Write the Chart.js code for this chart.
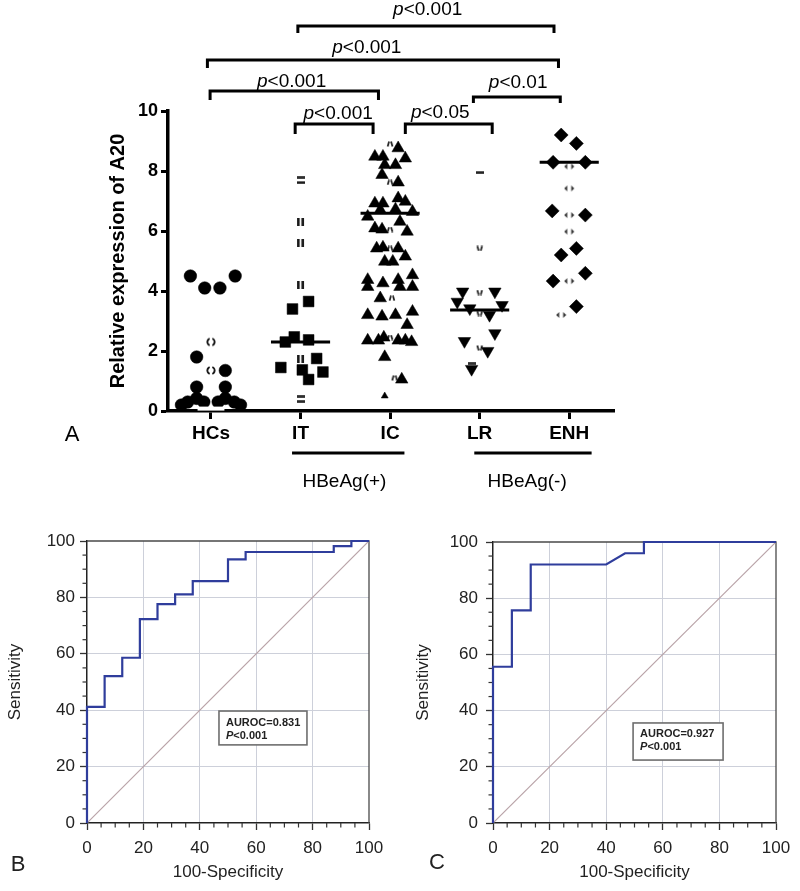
<!DOCTYPE html>
<html>
<head>
<meta charset="utf-8">
<script src="https://cdn.jsdelivr.net/npm/chart.js@4.4.1/dist/chart.umd.min.js"></script>
<style>
html,body{margin:0;padding:0;background:#fff;}
#wrap{position:relative;width:800px;height:891px;overflow:hidden;background:#fff;}
.box{position:absolute;}
</style>
</head>
<body>
<div id="wrap">
  <div class="box" style="left:0;top:0;width:800px;height:500px;"><canvas id="cA" width="800" height="500"></canvas></div>
  <div class="box" style="left:0;top:500px;width:400px;height:391px;"><canvas id="cB" width="400" height="391"></canvas></div>
  <div class="box" style="left:400px;top:500px;width:400px;height:391px;"><canvas id="cC" width="400" height="391"></canvas></div>
</div>
<script>
// ---------------- DATA (panel A) ----------------
const categories = ['HCs', 'IT', 'IC', 'LR', 'ENH'];
const yTicksA = [0, 2, 4, 6, 8, 10];

const hcsValues = [4.5, 4.5, 4.1, 4.1, 1.8, 1.35, 0.8, 0.8, 0.42, 0.42, 0.3, 0.3, 0.3, 0.3, 0.2, 0.2];
const hcsJitter = [-0.23, 0.27, -0.07, 0.10, -0.16, 0.16, -0.16, 0.16, -0.16, 0.16, -0.26, -0.08, 0.08, 0.26, -0.33, 0.33];
const hcsGhost = [2.3, 1.35];
const hcsGhostJitter = [0, 0];

const itValues = [3.65, 3.4, 2.47, 2.37, 2.3, 1.75, 1.45, 1.37, 1.3, 1.05];
const itJitter = [0.09, -0.09, -0.07, 0.09, -0.17, 0.18, -0.22, 0.02, 0.25, 0.09];
const itGhostBars = [6.3, 5.6, 4.2, 1.75];
const itGhostBarsJitter = [0, 0, 0, 0];
const itGhostDash = [7.8, 7.62, 0.5, 0.33];
const itGhostDashJitter = [0, 0, 0, 0];

const icValues = [8.76, 8.48, 8.48, 8.42, 8.2, 8.2, 7.87, 7.62, 7.09, 6.92, 6.92, 6.98, 6.72, 6.7, 6.48, 6.64,
  6.31, 6.09, 6.05, 5.98, 5.42, 5.45, 5.42, 5.15, 4.98, 4.98, 4.53, 4.37, 4.26, 4.37, 4.14, 4.14, 4.14,
  3.76, 3.2, 3.15, 3.2, 3.31, 2.87, 2.35, 2.35, 2.45, 2.35, 2.35, 2.3, 1.8, 1.05];
const icJitter = [0.09, -0.17, -0.08, 0.17, -0.06, 0.06, -0.09, 0.09, 0.09, -0.17, -0.08, 0.17, 0.06, -0.11, -0.25, 0.25,
  0.11, -0.17, -0.09, 0.19, -0.15, -0.08, 0.09, 0.17, -0.06, 0.03, 0.25, -0.25, -0.08, 0.09, -0.25, 0.11, 0.25,
  -0.11, -0.25, -0.09, 0.06, 0.25, 0.19, -0.25, -0.13, -0.07, 0.09, 0.17, 0.24, -0.06, 0.13];
const icGhost = [8.9, 7.62, 6.05, 5.42, 3.76, 2.45, 1.1];
const icGhostJitter = [0, 0, 0, 0, 0.02, 0, 0.05];
const icFaint = [0.5];
const icFaintJitter = [-0.06];

const lrValues = [3.98, 3.98, 3.64, 3.53, 3.42, 3.2, 2.59, 2.33, 2.0, 1.4];
const lrJitter = [-0.19, 0.17, -0.25, 0.25, -0.11, 0.11, 0.17, -0.17, 0.09, -0.09];
const lrGhost = [5.42, 3.95, 3.25, 2.1];
const lrGhostJitter = [0, 0, 0, 0];
const lrGhostDash = [7.96, 1.6];
const lrGhostDashJitter = [0, -0.09];

const enhValues = [9.2, 8.92, 8.29, 8.29, 6.67, 6.53, 5.42, 5.2, 4.59, 4.33, 3.48];
const enhJitter = [-0.09, 0.08, -0.18, 0.18, -0.19, 0.18, 0.08, -0.09, 0.18, -0.18, 0.08];
const enhGhost = [8.15, 7.42, 6.53, 5.98, 4.33, 3.2];
const enhGhostJitter = [0, 0, 0, 0, 0, -0.09];

const medians = [0.08, 2.3, 6.59, 3.37, 8.29];

// significance brackets (category units / value units)
const bracketFrom  = [1.97, 0.96, 0.99, 3.93, 1.94, 3.17];
const bracketTo    = [4.83, 4.88, 2.87, 4.90, 2.81, 4.14];
const bracketLevel = [12.83, 11.7, 10.67, 10.47, 9.57, 9.57];
const bracketText  = ['<0.001', '<0.001', '<0.001', '<0.01', '<0.001', '<0.05'];
const bracketTextX = [3.42, 2.74, 1.9, 4.43, 2.42, 3.56];
const bracketTextY = [13.2, 11.93, 10.8, 10.77, 9.72, 9.77];

const groupLabels = ['HBeAg(+)', 'HBeAg(-)'];
const groupFrom = [1.905, 3.94];
const groupTo = [3.16, 5.25];
const groupLabelX = [2.49, 4.53];

// ---------------- DATA (panels B, C) ----------------
const rocB_fpr = [0, 0, 6.25, 6.25, 12.5, 12.5, 18.75, 18.75, 25, 25, 31.25, 31.25, 37.5, 37.5, 50, 50, 56.25, 56.25, 87.5, 87.5, 93.75, 93.75, 100];
const rocB_tpr = [0, 41.2, 41.2, 52.1, 52.1, 58.6, 58.6, 72.3, 72.3, 77.6, 77.6, 81.1, 81.1, 85.8, 85.8, 93.5, 93.5, 96.1, 96.1, 98.2, 98.2, 100, 100];
const rocC_fpr = [0, 0, 6.67, 6.67, 13.33, 13.33, 40, 46.67, 53.33, 53.33, 100];
const rocC_tpr = [0, 55.6, 55.6, 75.7, 75.7, 92, 92, 96, 96, 100, 100];
const refLineX = [0, 100];
const refLineY = [0, 100];
const aurocText = ['AUROC=0.831', 'AUROC=0.927'];
const pValueText = ['<0.001', '<0.001'];
const aurocBoxB = [46.8, 78, 39.7, 27.7];   // x1, x2, yTop, yBottom (data units)
const aurocBoxC = [49.5, 81.3, 35.6, 22.4];
const rocTicks = [0, 20, 40, 60, 80, 100];

// ---------------- RENDERING ----------------
const FF = '"Liberation Sans", Arial, Helvetica, sans-serif';
Chart.defaults.font.family = FF;
Chart.defaults.color = '#000';
Chart.defaults.animation = false;

function mkCanvas(w, h, draw) {
  const c = document.createElement('canvas');
  c.width = w; c.height = h;
  const g = c.getContext('2d');
  g.fillStyle = '#1a1a1a'; g.strokeStyle = '#1a1a1a';
  draw(g);
  return c;
}
const imgCircleGhost = mkCanvas(10, 11, g => {
  g.lineWidth = 2;
  g.beginPath(); g.arc(5, 5.5, 3.6, Math.PI * 0.62, Math.PI * 1.38); g.stroke();
  g.beginPath(); g.arc(5, 5.5, 3.6, -Math.PI * 0.38, Math.PI * 0.38); g.stroke();
});
const imgBars = mkCanvas(9, 8, g => { g.fillRect(1, 0, 2.6, 8); g.fillRect(5.4, 0, 2.6, 8); });
const imgDash = mkCanvas(8, 3, g => { g.fillRect(0, 0.4, 8, 2.4); });
const imgTicksUp = mkCanvas(8, 6, g => {
  g.lineWidth = 1.7; g.beginPath();
  g.moveTo(3, 0.5); g.lineTo(1.6, 5.5); g.moveTo(5, 0.5); g.lineTo(6.4, 5.5); g.stroke();
});
const imgTicksDown = mkCanvas(8, 6, g => {
  g.lineWidth = 1.7; g.beginPath();
  g.moveTo(1.6, 0.5); g.lineTo(3, 5.5); g.moveTo(6.4, 0.5); g.lineTo(5, 5.5); g.stroke();
});
const imgDiaGhost = mkCanvas(11, 8, g => {
  g.fillStyle = '#333';
  g.beginPath(); g.moveTo(0.5, 4); g.lineTo(3.5, 1); g.lineTo(3.5, 7); g.closePath(); g.fill();
  g.beginPath(); g.moveTo(10.5, 4); g.lineTo(7.5, 1); g.lineTo(7.5, 7); g.closePath(); g.fill();
});

function pts(gi, vals, jit) { return vals.map((v, i) => ({ x: gi + jit[i], y: v })); }

const datasetsA = [];
const medianHalf = [0.15, 0.33, 0.33, 0.33, 0.33];
medians.forEach((m, i) => {
  datasetsA.push({
    type: 'line', data: [{ x: i + 1 - medianHalf[i], y: m }, { x: i + 1 + medianHalf[i], y: m }],
    borderColor: i === 0 ? '#fff' : '#000', borderWidth: i === 0 ? 4 : 3, pointRadius: 0,
    showLine: true, clip: false, borderCapStyle: 'butt'
  });
});
function solid(data, style, r, rot) {
  return { data, pointStyle: style, pointRadius: r, pointRotation: rot || 0, backgroundColor: '#000',
    borderColor: '#000', borderWidth: 0.5, clip: false, showLine: false };
}
function ghost(data, img) {
  return { data, pointStyle: img, pointRadius: 4, clip: false, showLine: false };
}
datasetsA.push(solid(pts(1, hcsValues, hcsJitter), 'circle', 6.3));
datasetsA.push(ghost(pts(1, hcsGhost, hcsGhostJitter), imgCircleGhost));
datasetsA.push(solid(pts(2, itValues, itJitter), 'rect', 7.6));
datasetsA.push(ghost(pts(2, itGhostBars, itGhostBarsJitter), imgBars));
datasetsA.push(ghost(pts(2, itGhostDash, itGhostDashJitter), imgDash));
datasetsA.push(solid(pts(3, icValues, icJitter), 'triangle', 7.2));
datasetsA.push(ghost(pts(3, icGhost, icGhostJitter), imgTicksUp));
datasetsA.push(solid(pts(3, icFaint, icFaintJitter), 'triangle', 4));
datasetsA.push(solid(pts(4, lrValues, lrJitter), 'triangle', 7.2, 180));
datasetsA.push(ghost(pts(4, lrGhost, lrGhostJitter), imgTicksDown));
datasetsA.push(ghost(pts(4, lrGhostDash, lrGhostDashJitter), imgDash));
datasetsA.push(solid(pts(5, enhValues, enhJitter), 'rectRot', 7));
datasetsA.push(ghost(pts(5, enhGhost, enhGhostJitter), imgDiaGhost));

function drawP(ctx, text, cx, baseY, size) {
  ctx.font = `italic ${size}px ${FF}`;
  const w1 = ctx.measureText('p').width;
  ctx.font = `${size}px ${FF}`;
  const w2 = ctx.measureText(text).width;
  const sx = cx - (w1 + w2) / 2;
  ctx.textAlign = 'left'; ctx.textBaseline = 'alphabetic';
  ctx.font = `italic ${size}px ${FF}`; ctx.fillText('p', sx, baseY);
  ctx.font = `${size}px ${FF}`; ctx.fillText(text, sx + w1, baseY);
}

const annotA = {
  id: 'annotA',
  afterDraw(chart) {
    const { ctx, scales: { x, y } } = chart;
    const tickLen = [7, 8, 9, 6, 10, 10];
    ctx.save();
    ctx.fillStyle = '#000'; ctx.strokeStyle = '#000';
    ctx.lineWidth = 3; ctx.lineJoin = 'miter'; ctx.lineCap = 'butt';
    for (let i = 0; i < bracketFrom.length; i++) {
      const x1 = x.getPixelForValue(bracketFrom[i]);
      const x2 = x.getPixelForValue(bracketTo[i]);
      const yy = y.getPixelForValue(bracketLevel[i]);
      ctx.beginPath();
      ctx.moveTo(x1, yy + tickLen[i]); ctx.lineTo(x1, yy); ctx.lineTo(x2, yy); ctx.lineTo(x2, yy + tickLen[i]);
      ctx.stroke();
      drawP(ctx, bracketText[i], x.getPixelForValue(bracketTextX[i]), y.getPixelForValue(bracketTextY[i]), 19);
    }
    const base = y.getPixelForValue(0);
    for (let i = 0; i < groupLabels.length; i++) {
      const x1 = x.getPixelForValue(groupFrom[i]);
      const x2 = x.getPixelForValue(groupTo[i]);
      ctx.lineWidth = 3;
      ctx.beginPath(); ctx.moveTo(x1, base + 42); ctx.lineTo(x2, base + 42); ctx.stroke();
      ctx.font = `19px ${FF}`; ctx.textAlign = 'center'; ctx.textBaseline = 'middle';
      ctx.fillText(groupLabels[i], x.getPixelForValue(groupLabelX[i]), base + 71);
    }
    ctx.font = `22px ${FF}`; ctx.textAlign = 'center'; ctx.textBaseline = 'middle';
    ctx.fillText('A', 72, base + 24);
    ctx.restore();
  }
};

new Chart(document.getElementById('cA'), {
  type: 'scatter',
  data: { datasets: datasetsA },
  options: {
    responsive: false, animation: false,
    layout: { padding: { left: 100, top: 111, right: 186, bottom: 49 } },
    plugins: { legend: { display: false }, tooltip: { enabled: false } },
    scales: {
      x: {
        type: 'linear', min: 0.52, max: 5.5,
        afterBuildTicks: s => { s.ticks = categories.map((c, i) => ({ value: i + 1 })); },
        afterFit: s => { s.height = 40; },
        ticks: { autoSkip: false, maxRotation: 0, padding: 3, color: '#000',
          font: { size: 19, weight: 'bold' }, callback: v => categories[Math.round(v) - 1] },
        grid: { drawOnChartArea: false, drawTicks: true, tickLength: 8, tickWidth: 3, tickColor: '#000' },
        border: { display: true, color: '#000', width: 3.5 }
      },
      y: {
        type: 'linear', min: 0, max: 10,
        afterBuildTicks: s => { s.ticks = yTicksA.map(v => ({ value: v })); },
        afterFit: s => { s.width = 68; },
        ticks: { padding: 3, color: '#000', font: { size: 18, weight: 'bold' } },
        grid: { drawOnChartArea: false, drawTicks: true, tickLength: 7, tickWidth: 3, tickColor: '#000' },
        border: { display: true, color: '#000', width: 3.5 },
        title: { display: true, text: 'Relative expression of A20', color: '#000',
          font: { size: 20, weight: 'bold' }, padding: { top: 6, bottom: 0 } }
      }
    }
  },
  plugins: [annotA]
});

// ---------------- ROC panels ----------------
function rocChart(id, fpr, tpr, box, idx, letter, lay) {
  const annot = {
    id: 'annot' + letter,
    beforeDatasetsDraw(chart) {
      const { ctx, chartArea: a, scales: { x, y } } = chart;
      ctx.save();
      ctx.strokeStyle = '#4a4a4a'; ctx.lineWidth = 1.3;
      ctx.beginPath(); ctx.moveTo(a.left, a.top); ctx.lineTo(a.right, a.top); ctx.lineTo(a.right, a.bottom); ctx.stroke();
      // minor ticks
      ctx.strokeStyle = '#333'; ctx.lineWidth = 1.2;
      for (let v = 5; v < 100; v += 5) {
        if (v % 20 === 0) continue;
        const px = x.getPixelForValue(v), py = y.getPixelForValue(v);
        ctx.beginPath(); ctx.moveTo(px, a.bottom); ctx.lineTo(px, a.bottom + 4.5); ctx.stroke();
        ctx.beginPath(); ctx.moveTo(a.left, py); ctx.lineTo(a.left - 4.5, py); ctx.stroke();
      }
      ctx.restore();
    },
    afterDraw(chart) {
      const { ctx, chartArea: a, scales: { x, y } } = chart;
      ctx.save();
      const bx1 = x.getPixelForValue(box[0]), bx2 = x.getPixelForValue(box[1]);
      const by1 = y.getPixelForValue(box[2]), by2 = y.getPixelForValue(box[3]);
      ctx.fillStyle = '#fff'; ctx.fillRect(bx1, by1, bx2 - bx1, by2 - by1);
      ctx.strokeStyle = '#6e6e6e'; ctx.lineWidth = 1.6; ctx.strokeRect(bx1, by1, bx2 - bx1, by2 - by1);
      ctx.fillStyle = '#222'; ctx.textAlign = 'left'; ctx.textBaseline = 'alphabetic';
      ctx.font = `bold 11px ${FF}`;
      ctx.fillText(aurocText[idx], bx1 + 7, by1 + 14.5);
      ctx.font = `italic bold 11px ${FF}`;
      const wP = ctx.measureText('P').width;
      ctx.fillText('P', bx1 + 7, by1 + 27.5);
      ctx.font = `bold 11px ${FF}`;
      ctx.fillText(pValueText[idx], bx1 + 7 + wP, by1 + 27.5);
      ctx.font = `22px ${FF}`; ctx.fillStyle = '#222'; ctx.textAlign = 'center'; ctx.textBaseline = 'middle';
      ctx.fillText(letter, lay.letterX, lay.letterY);
      ctx.restore();
    }
  };
  const axisCommon = (title, pad, ttlPad) => ({
    type: 'linear', min: 0, max: 100,
    afterBuildTicks: s => { s.ticks = rocTicks.map(v => ({ value: v })); },
    ticks: { autoSkip: false, maxRotation: 0, padding: pad, color: '#222', font: { size: 17 } },
    grid: { color: c => (c.tick && c.tick.value > 0 && c.tick.value < 100) ? '#cdd0da' : 'rgba(0,0,0,0)',
      lineWidth: 1, drawTicks: true, tickLength: 7, tickWidth: 1.3, tickColor: '#333' },
    border: { display: true, color: '#222', width: 1.5 },
    title: { display: true, text: title, color: '#222', font: { size: 17 }, padding: ttlPad }
  });
  const xs = axisCommon('100-Specificity', 8, { top: 0, bottom: 8 });
  xs.afterFit = s => { s.height = 68; };
  const ys = axisCommon('Sensitivity', lay.yPad, { top: lay.yTitlePad, bottom: 0 });
  ys.afterFit = s => { s.width = lay.yw; };
  new Chart(document.getElementById(id), {
    type: 'scatter',
    data: {
      datasets: [
        { data: fpr.map((v, i) => ({ x: v, y: tpr[i] })), showLine: true, borderColor: '#2f3d9c',
          borderWidth: 2.2, pointRadius: 0, tension: 0, clip: false, borderJoinStyle: 'miter' },
        { data: refLineX.map((v, i) => ({ x: v, y: refLineY[i] })), showLine: true, borderColor: '#b9a3a8',
          borderWidth: 1.2, pointRadius: 0, tension: 0 }
      ]
    },
    options: {
      responsive: false, animation: false,
      layout: { padding: { left: lay.padLeft, top: lay.padTop, right: lay.padRight, bottom: 0 } },
      plugins: { legend: { display: false }, tooltip: { enabled: false } },
      scales: { x: xs, y: ys }
    },
    plugins: [annot]
  });
}

rocChart('cB', rocB_fpr, rocB_tpr, aurocBoxB, 0, 'B',
  { padLeft: 0, padTop: 41, padRight: 31, yw: 87, yPad: 5, yTitlePad: 5, letterX: 18, letterY: 365 });
rocChart('cC', rocC_fpr, rocC_tpr, aurocBoxC, 1, 'C',
  { padLeft: 7, padTop: 42, padRight: 24, yw: 86, yPad: 8, yTitlePad: 6, letterX: 37, letterY: 363 });
</script>
</body>
</html>
